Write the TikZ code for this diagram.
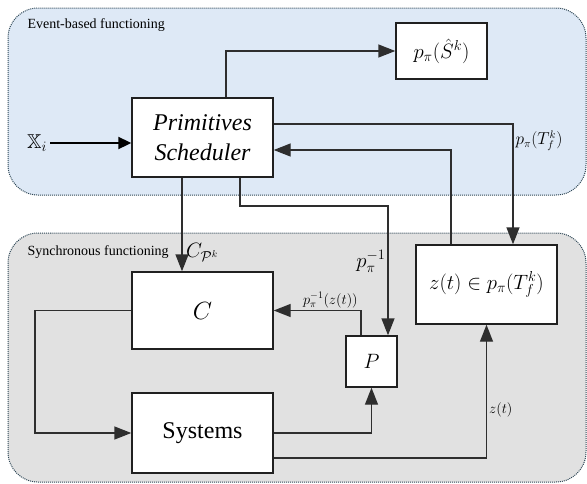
\documentclass[tikz,border=0pt]{standalone}
\usepackage{fontspec}
\usepackage{amssymb}
\setmainfont{Liberation Serif}
\usetikzlibrary{arrows.meta}
\definecolor{eventbg}{HTML}{DEE9F6}
\definecolor{syncbg}{HTML}{E1E1E1}
\definecolor{framecol}{HTML}{2E4756}
\definecolor{linecol}{HTML}{2E2E2E}
\begin{document}
\begin{tikzpicture}[x=1pt,y=-1pt,
        block/.style={draw=linecol!70!black,line width=1.4pt,fill=white,inner sep=0pt},
        region/.style={draw=framecol,dash pattern=on 1pt off 1pt,line width=1pt,rounded corners=30pt},
        flow/.style={draw=linecol,line width=1.4pt,-{Triangle[length=17pt,width=13pt]}},
        every node/.style={font=\fontsize{20}{24}\selectfont}]
    \useasboundingbox (0,0) rectangle (587,483);
    % the two functioning areas
    \draw[region,fill=eventbg] (8,8) rectangle (586,195);
    \draw[region,fill=syncbg] (8,233) rectangle (586,482);
    \node[anchor=west,font=\fontsize{14}{16}\selectfont] (evlab) at (24,25) {Event-based functioning};
    \node[anchor=west,font=\fontsize{14}{16}\selectfont] (synlab) at (24,252) {Synchronous functioning};
    % blocks
    \node[block,minimum width=141pt,minimum height=79pt,align=center,
          font=\fontsize{24}{30}\selectfont\itshape] (sched) at (202.5,137.5) {Primitives\\Scheduler};
    \node[block,minimum width=91pt,minimum height=56pt] (shat) at (441.5,51) {$p_\pi(\hat{S}^k)$};
    \node[block,minimum width=141pt,minimum height=79pt] (zbox) at (486.5,284.5) {$z(t)\in p_\pi(T_f^k)$};
    \node[block,minimum width=141pt,minimum height=77pt,font=\fontsize{32}{36}\selectfont] (cbox) at (202.5,310.5) {$C$};
    \node[block,minimum width=51pt,minimum height=51pt] (pbox) at (371.5,361.5) {$P$};
    \node[block,minimum width=141pt,minimum height=80pt,font=\fontsize{24}{29}\selectfont] (sys) at (202.5,433) {Systems};
    \node (xi) at (37,143) {$\mathbb{X}_i$};
    \coordinate (pinv) at (388,206);
    \coordinate (loopL) at (35,310.5);
    % connectors
    \draw[line width=2pt,-{Triangle[length=13pt,width=12pt]}] (xi) -- (xi -| sched.west);
    \draw[flow] ([xshift=23.5pt]sched.north) |- (shat.west);
    \draw[flow] ([yshift=13.5pt]sched.east) -| ([xshift=26.5pt]zbox.north)
        node[pos=0.57,right,inner sep=2pt,font=\fontsize{16}{18}\selectfont] {$p_\pi(T_f^k)$};
    \draw[flow] ([xshift=-35.5pt]zbox.north) |- ([yshift=-12.5pt]sched.east);
    \draw[flow] ([xshift=-20.5pt]sched.south) -- ([xshift=-20.5pt]cbox.north)
        node[pos=0.8,right] {$C_{\mathcal{P}^k}$};
    \draw[flow] ([xshift=37.5pt]sched.south) |- (pinv) -- ([xshift=16.5pt]pbox.north)
        node[pos=0.43,left,inner sep=2pt] {$p_\pi^{-1}$};
    \draw[flow] ([xshift=-10.5pt]pbox.north) |- (cbox.east)
        node[pos=0.675,above,inner sep=2pt,font=\fontsize{14}{16}\selectfont] {$p_\pi^{-1}(z(t))$};
    \draw[flow] (cbox.west) -- (loopL) |- (sys.west);
    \draw[flow] (sys.east) -| (pbox.south);
    \draw[flow] ([yshift=-25pt]sys.east) -| (zbox.south)
        node[pos=0.68,right,inner sep=2pt,font=\fontsize{15}{17}\selectfont] {$z(t)$};
\end{tikzpicture}
\end{document}
